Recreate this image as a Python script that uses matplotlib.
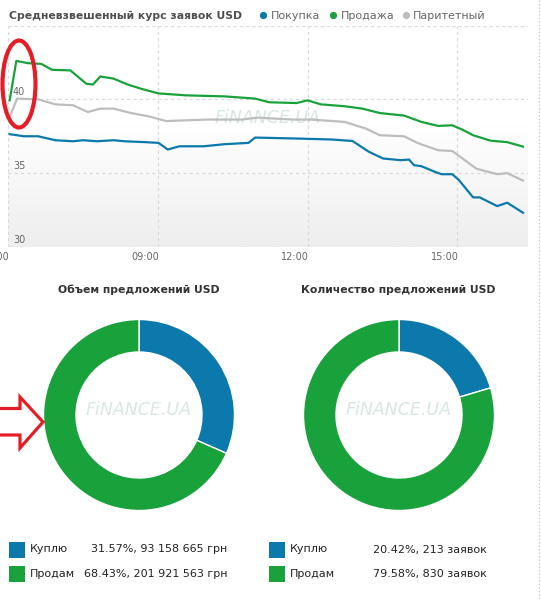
import matplotlib
matplotlib.use('Agg')
import matplotlib.pyplot as plt
import matplotlib.transforms as mtransforms
from matplotlib.patches import Ellipse, Polygon, Rectangle
import numpy as np

plt.rcParams['font.family'] = ['DejaVu Sans']

# ---------------- data ----------------
buy_times = ["06:02", "06:19", "06:36", "06:57", "07:18", "07:30", "07:47", "08:07", "08:20",
             "08:45", "09:01", "09:12", "09:26", "09:55", "10:20", "10:49", "10:57", "11:51",
             "12:29", "12:54", "13:14", "13:31", "13:52", "14:02", "14:08", "14:17", "14:33",
             "14:41", "14:54", "15:02", "15:19", "15:27", "15:48", "16:00", "16:19"]
buy_values = [37.64, 37.50, 37.50, 37.23, 37.16, 37.23, 37.16, 37.23, 37.16,
              37.10, 37.05, 36.60, 36.82, 36.82, 36.96, 37.05, 37.41, 37.34,
              37.28, 37.18, 36.44, 35.99, 35.88, 35.92, 35.54, 35.47, 35.09,
              34.93, 34.93, 34.53, 33.36, 33.36, 32.77, 33.00, 32.32]

sell_times = ["06:02", "06:10", "06:24", "06:40", "06:53", "07:15", "07:34", "07:42", "07:51",
              "08:07", "08:24", "08:41", "09:01", "09:34", "10:20", "10:57", "11:14", "11:47",
              "12:00", "12:16", "12:45", "13:06", "13:27", "13:56", "14:17", "14:37", "14:54",
              "15:06", "15:19", "15:40", "16:00", "16:19"]
sell_values = [39.93, 42.60, 42.45, 42.40, 42.00, 41.96, 41.06, 41.00, 41.55,
               41.40, 41.00, 40.70, 40.40, 40.27, 40.20, 40.05, 39.80, 39.75,
               39.93, 39.66, 39.53, 39.37, 39.07, 38.90, 38.47, 38.20, 38.24,
               37.95, 37.57, 37.20, 37.10, 36.80]

par_times = ["06:02", "06:11", "06:36", "06:57", "07:18", "07:36", "07:51", "08:07", "08:28",
             "08:49", "09:10", "09:59", "10:41", "11:00", "11:43", "12:04", "12:45", "13:10",
             "13:27", "13:56", "14:12", "14:37", "14:54", "15:23", "15:48", "16:00", "16:19"]
par_values = [38.80, 40.05, 40.00, 39.66, 39.60, 39.14, 39.37, 39.37, 39.07,
              38.85, 38.53, 38.63, 38.63, 38.76, 38.63, 38.63, 38.47, 38.02,
              37.57, 37.50, 37.05, 36.55, 36.50, 35.30, 34.93, 35.00, 34.50]

series_names = ["Покупка", "Продажа", "Паритетный"]
x_tick_labels = ["06:00", "09:00", "12:00", "15:00"]
y_tick_values = [30, 35, 40]

volume_pct = [31.57, 68.43]
volume_uah = ["93 158 665", "201 921 563"]
count_pct = [20.42, 79.58]
count_orders = [213, 830]
slice_names = ["Куплю", "Продам"]

chart_title = "Средневзвешенный курс заявок USD"
donut_titles = ["Объем предложений USD", "Количество предложений USD"]
watermark = "FiNANCE.UA"

# ---------------- style ----------------
BLUE = '#0b79ab'
GREEN = '#19a23b'
GRAY = '#bdbdbd'
RED = '#e41e26'
GRID = '#d9d9d9'

W, H, DPI = 541, 601, 100
fig = plt.figure(figsize=(W / DPI, H / DPI), dpi=DPI)
fig.patch.set_facecolor('white')


def fx(px):
    return px / W


def fy(py):
    return 1 - py / H


def to_min(s):
    h, m = s.split(':')
    return int(h) * 60 + int(m)


XMIN, XMAX, YMIN, YMAX = to_min("06:00"), to_min("16:25"), 30, 45

# ---------------- line chart ----------------
ax = fig.add_axes([fx(8), fy(247), fx(528) - fx(8), fy(25.5) - fy(247)])
for s in ax.spines.values():
    s.set_visible(False)

# background gradient: white in the upper part, fading to light grey at the bottom
rows = np.linspace(0, 1, 222)
shade = np.where(rows < 0.45, 1.0, 1.0 - (rows - 0.45) / 0.55 * (17 / 255))
img = np.dstack([shade, shade, shade]).reshape(222, 1, 3)
ax.imshow(img, extent=[XMIN, XMAX, YMIN, YMAX], aspect='auto', zorder=0,
          interpolation='bilinear')

for v in [30, 35, 40, 45]:
    ax.axhline(v, color=GRID, lw=0.9, ls=(0, (2.5, 2.5)), zorder=1)
tick_mins = [to_min(t) for t in x_tick_labels]
for t in tick_mins:
    ax.axvline(t, color=GRID, lw=0.9, ls=(0, (2.5, 2.5)), zorder=1)

# watermark
ax.text(0.5, (38.72 - YMIN) / (YMAX - YMIN), watermark, transform=ax.transAxes,
        ha='center', va='center', fontsize=12.5, style='italic', color='#d8e6e4', zorder=2)

ax.plot([to_min(t) for t in par_times], par_values, color=GRAY, lw=1.6, zorder=3,
        solid_joinstyle='round')
ax.plot([to_min(t) for t in sell_times], sell_values, color=GREEN, lw=1.6, zorder=4,
        solid_joinstyle='round')
ax.plot([to_min(t) for t in buy_times], buy_values, color=BLUE, lw=1.6, zorder=5,
        solid_joinstyle='round')

ax.set_xlim(XMIN, XMAX)
ax.set_ylim(YMIN, YMAX)
ax.set_xticks([])
ax.set_yticks([])

# tick labels
for t, lab in zip(tick_mins, x_tick_labels):
    tr = mtransforms.blended_transform_factory(ax.transData, ax.transAxes) + \
        mtransforms.ScaledTranslation(-12.7 / DPI, -9.5 / DPI, fig.dpi_scale_trans)
    ax.text(t, 0, lab, transform=tr, ha='center', va='center', fontsize=7, color='#666666',
            clip_on=False)
for v in y_tick_values:
    tr = mtransforms.blended_transform_factory(ax.transAxes, ax.transData) + \
        mtransforms.ScaledTranslation(5 / DPI, 7.5 / DPI, fig.dpi_scale_trans)
    ax.text(0, v, str(v), transform=tr, ha='left', va='center', fontsize=7, color='#666666',
            zorder=6)

# ---------------- donuts ----------------
def donut(cx, cy, vals):
    size = 220
    a = fig.add_axes([fx(cx - size / 2), fy(cy + size / 2), size / W, size / H])
    a.pie(vals, colors=[BLUE, GREEN], startangle=90, counterclock=False, radius=0.955,
          wedgeprops=dict(width=0.325, edgecolor='white', linewidth=1.0))
    a.set_xlim(-1.1, 1.1)
    a.set_ylim(-1.1, 1.1)
    a.set_aspect('equal')
    a.axis('off')
    a.text(0, 0.05, watermark, ha='center', va='center', fontsize=12.5, style='italic',
           color='#d8e6e4')
    return a


donut(139, 415, volume_pct)
donut(399, 415, count_pct)

# ---------------- overlay (pixel coords) ----------------
ov = fig.add_axes([0, 0, 1, 1], zorder=10)
ov.set_xlim(0, W)
ov.set_ylim(H, 0)
ov.axis('off')
ov.patch.set_visible(False)

ov.text(9, 15.7, chart_title, ha='left', va='center', fontsize=7.8, fontweight='bold',
        color='#4f4f4f')
leg_dot_x = [263.3, 333.3, 406]
leg_txt_x = [270.7, 340.7, 413]
for c, dx, tx, name in zip([BLUE, GREEN, GRAY], leg_dot_x, leg_txt_x, series_names):
    ov.plot([dx], [15.2], marker='o', ms=4.2, color=c, mec=c)
    ov.text(tx, 15.7, name, ha='left', va='center', fontsize=8, color='#666666')

ov.text(138.5, 289.5, donut_titles[0], ha='center', va='center', fontsize=7.8,
        fontweight='bold', color='#333333')
ov.text(398.7, 289.5, donut_titles[1], ha='center', va='center', fontsize=7.8,
        fontweight='bold', color='#333333')

# bottom legends
rows_y = [549.5, 574]
for i, (c, y) in enumerate(zip([BLUE, GREEN], rows_y)):
    ov.add_patch(Rectangle((8.6, y - 8), 16, 16, color=c, lw=0))
    ov.add_patch(Rectangle((268.8, y - 8), 16, 16, color=c, lw=0))
    ov.text(30, y, slice_names[i], ha='left', va='center', fontsize=8, color='#222222')
    ov.text(227, y, f"{volume_pct[i]:.2f}%, {volume_uah[i]} грн", ha='right', va='center',
            fontsize=8, color='#222222')
    ov.text(290, y, slice_names[i], ha='left', va='center', fontsize=8, color='#222222')
    ov.text(372.7, y, f"{count_pct[i]:.2f}%, {count_orders[i]} заявок", ha='left',
            va='center', fontsize=8, color='#222222')

# red annotations
ov.add_patch(Ellipse((19, 84), 33, 87, fill=False, ec=RED, lw=3.0))
ov.add_patch(Polygon([(-3, 408.5), (20, 408.5), (20, 397), (43, 422), (20, 448), (20, 435),
                      (-3, 435)], closed=True, fill=False, ec=RED, lw=2.3, joinstyle='miter'))

# right page border
ov.plot([538.5, 538.5], [0, H], color='#c8c8c8', lw=1, ls=(0, (1, 1.5)))

fig.savefig('out.png', dpi=DPI, facecolor='white')
